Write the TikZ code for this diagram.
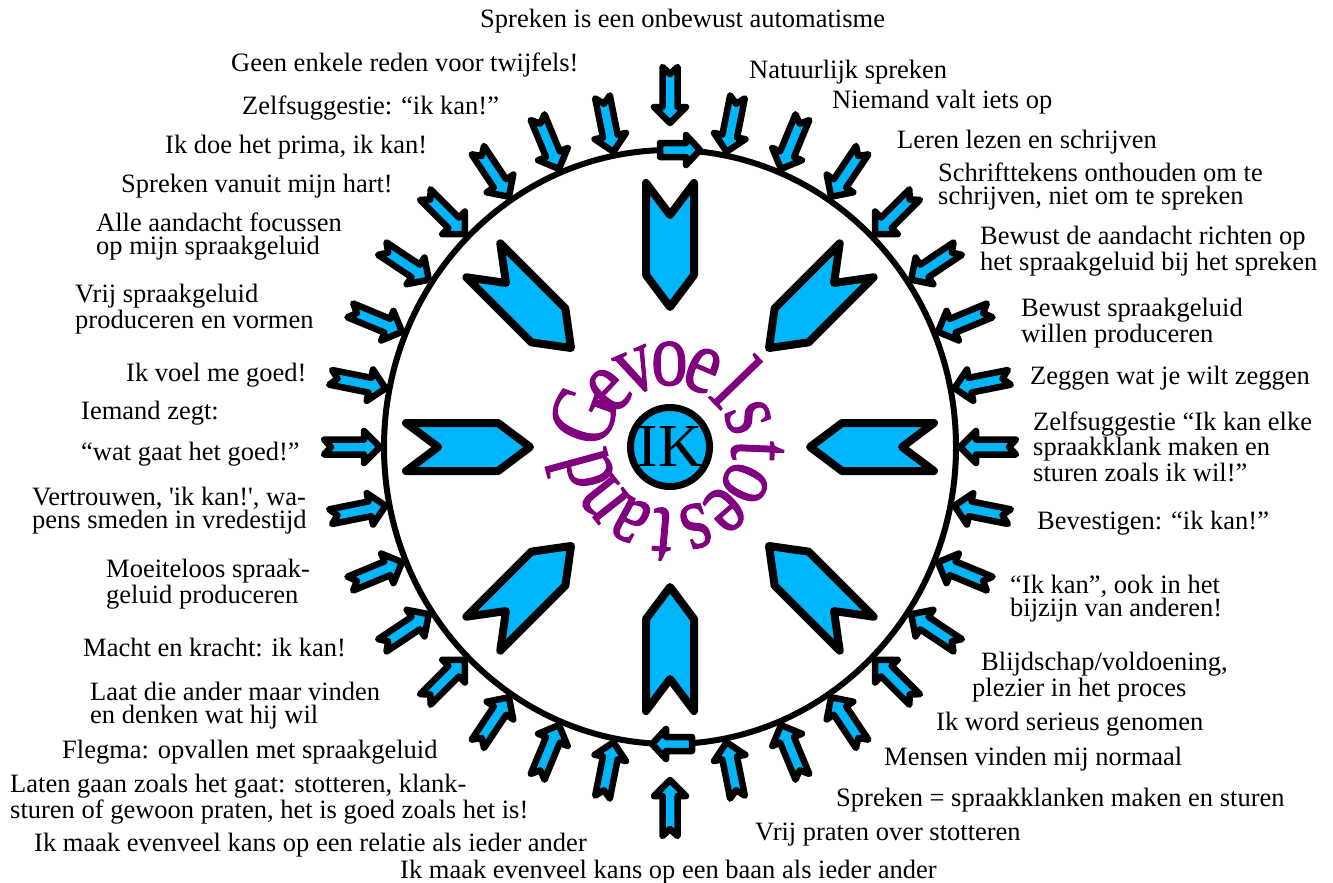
\documentclass[tikz,border=0pt]{standalone}
\usepackage{fontspec}
\setmainfont{Liberation Serif}
\newfontfamily\ringfont{Liberation Serif}[FakeBold=1.2]

\definecolor{skyblue}{RGB}{0,182,250}
\definecolor{moodpurple}{RGB}{128,0,128}

\begin{document}
\begin{tikzpicture}[x=1pt, y=-1pt,
    lbl/.style={font=\fontsize{26.5}{23}\selectfont, inner sep=0pt, anchor=base west, align=left},
    smallarrow/.style={draw=black, fill=skyblue, line width=6.5pt, line join=round},
    bigarrow/.style={draw=black, fill=skyblue, line width=8pt, line join=round},
    ringletter/.style={font=\ringfont\fontsize{92}{92}\selectfont, text=moodpurple, anchor=base, inner sep=0pt, xscale=0.8}]

    \useasboundingbox (0,0) rectangle (1333,883);

    \begin{scope}[shift={(670,447)}, y=1pt]
        % Define parameters
        \def\rx{286}        % horizontal radius of the wheel
        \def\ry{297}        % vertical radius of the wheel
        \def\nsmall{32}     % number of small arrows
        \def\tip{140}       % distance of the big arrow tips from the middle
        \def\wordrad{62}    % radius of the baseline of the word
        \def\wordstep{23.2} % angle between two letters of the word

        % Draw the wheel
        \draw[line width=6pt] (0,0) ellipse ({\rx pt} and {\ry pt});

        % Small arrows pointing at the wheel
        \foreach \k in {0,...,31} {
            \pgfmathsetmacro{\ang}{90 - \k*360/\nsmall}
            \pgfmathsetmacro{\gap}{\k==0 ? 27 : (\k==16 ? 36 : 4)}
            \draw[smallarrow, shift={({(\rx+\gap)*cos(\ang)},{(\ry+\gap)*sin(\ang)})}, rotate=\ang+180]
                (0,0) -- (-16,16) -- (-16,7.5) -- (-56,7.5) -- (-49,0)
                -- (-56,-7.5) -- (-16,-7.5) -- (-16,-16) -- cycle;
        }

        % Turning arrows on the wheel
        \draw[smallarrow, shift={(10,\ry)}]
            (-20,-7) -- (6,-7) -- (6,-15) -- (20,0) -- (6,15) -- (6,7) -- (-20,7) -- cycle;
        \draw[smallarrow, shift={(2,-\ry)}, rotate=180]
            (-20,-7) -- (6,-7) -- (6,-15) -- (20,0) -- (6,15) -- (6,7) -- (-20,7) -- cycle;

        % Big arrows pointing at the middle
        \foreach \k in {0,...,7} {
            \pgfmathsetmacro{\ang}{90 - \k*45}
            \draw[bigarrow, shift={(\ang:\tip)}, rotate=\ang+180]
                (0,0) -- (-32,24) -- (-124,24) -- (-92,0) -- (-124,-24) -- (-32,-24) -- cycle;
        }

        % The middle
        \node[circle, draw, line width=7pt, fill=skyblue, minimum size=79pt, inner sep=0pt,
              font=\fontsize{61}{61}\selectfont] (ik) at (0,0) {IK};

        % Word round the middle, clockwise from the left
        \foreach \ch [count=\i from 0] in {G,e,v,o,e,l,s,t,o,e,s,t,a,n,d} {
            \pgfmathsetmacro{\a}{160 - \i*\wordstep}
            \node[rotate=\a-90, ringletter] (ch\i) at (\a:\wordrad) {\ch};
        }
    \end{scope}

    % Labels, left half (multi-line labels sit on their last line)
    \node[lbl] (top) at (480,28) {Spreken is een onbewust automatisme};
    \node[lbl] (l1) at (231,71) {Geen enkele reden voor twijfels!};
    \node[lbl] (l2) at (242,114) {Zelfsuggestie: “ik kan!”};
    \node[lbl] (l3) at (165,153) {Ik doe het prima, ik kan!};
    \node[lbl] (l4) at (121,192) {Spreken vanuit mijn hart!};
    \node[lbl] (l5) at (96,254) {Alle aandacht focussen\\op mijn spraakgeluid};
    \node[lbl] (l6) at (75,328) {Vrij spraakgeluid\\produceren en vormen};
    \node[lbl] (l7) at (126,381) {Ik voel me goed!};
    \node[lbl] (l8) at (81,460) {Iemand zegt:\\[15pt]“wat gaat het goed!”};
    \node[lbl] (l9) at (32,528) {Vertrouwen, \textquotesingle ik kan!\textquotesingle, wa-\\pens smeden in vredestijd};
    \node[lbl] (l10) at (106,603) {Moeiteloos spraak-\\geluid produceren};
    \node[lbl] (l11) at (83,656) {Macht en kracht: ik kan!};
    \node[lbl] (l12) at (90,723) {Laat die ander maar vinden\\en denken wat hij wil};
    \node[lbl] (l13) at (62,758) {Flegma: opvallen met spraakgeluid};
    \node[lbl] (l14) at (10,818) {Laten gaan zoals het gaat: stotteren, klank-\\sturen of gewoon praten, het is goed zoals het is!};
    \node[lbl] (l15) at (34,851) {Ik maak evenveel kans op een relatie als ieder ander};
    \node[lbl] (bottom) at (400,878) {Ik maak evenveel kans op een baan als ieder ander};

    % Labels, right half
    \node[lbl] (r1) at (749,78) {Natuurlijk spreken};
    \node[lbl] (r2) at (832,108) {Niemand valt iets op};
    \node[lbl] (r3) at (897,148) {Leren lezen en schrijven};
    \node[lbl] (r4) at (938,204) {Schrifttekens onthouden om te\\schrijven, niet om te spreken};
    \node[lbl] (r5) at (980,270) {Bewust de aandacht richten op\\het spraakgeluid bij het spreken};
    \node[lbl] (r6) at (1021,342) {Bewust spraakgeluid\\willen produceren};
    \node[lbl] (r7) at (1030,384) {Zeggen wat je wilt zeggen};
    \node[lbl] (r8) at (1033,481) {Zelfsuggestie “Ik kan elke\\spraakklank maken en\\sturen zoals ik wil!”};
    \node[lbl] (r9) at (1037,529) {Bevestigen: “ik kan!”};
    \node[lbl] (r10) at (1010,616) {“Ik kan”, ook in het\\bijzijn van anderen!};
    \node[lbl] (r11) at (972,696) {\hspace*{9pt}Blijdschap/voldoening,\\plezier in het proces};
    \node[lbl] (r12) at (936,730) {Ik word serieus genomen};
    \node[lbl] (r13) at (884,765) {Mensen vinden mij normaal};
    \node[lbl] (r14) at (836,806) {Spreken = spraakklanken maken en sturen};
    \node[lbl] (r15) at (755,840) {Vrij praten over stotteren};

\end{tikzpicture}
\end{document}
